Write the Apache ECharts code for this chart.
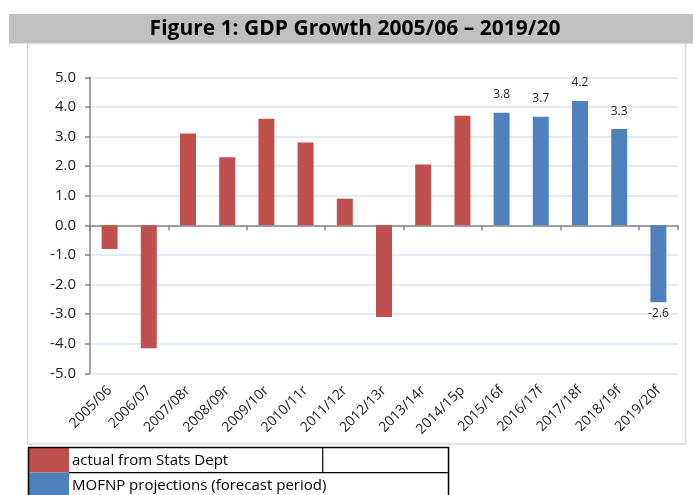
<!DOCTYPE html>
<html>
<head>
<meta charset="utf-8">
<script src="https://cdn.jsdelivr.net/npm/echarts@6/dist/echarts.min.js"></script>
<style>
html,body{margin:0;padding:0;background:#fff;}
#c{width:693px;height:495px;}
</style>
</head>
<body>
<div id="c"></div>
<script>
var titleText = 'Figure 1: GDP Growth 2005/06 \u2013 2019/20';
var categories = ['2005/06','2006/07','2007/08r','2008/09r','2009/10r','2010/11r','2011/12r','2012/13r','2013/14r','2014/15p','2015/16f','2016/17f','2017/18f','2018/19f','2019/20f'];
var actualValues = [-0.8, -4.15, 3.1, 2.3, 3.6, 2.8, 0.9, -3.1, 2.05, 3.7, null, null, null, null, null];
var projectionValues = [null, null, null, null, null, null, null, null, null, null, 3.8, 3.67, 4.2, 3.25, -2.6];
var seriesNames = ['actual from Stats Dept', 'MOFNP projections (forecast period)'];
var yTicks = [-5, -4, -3, -2, -1, 0, 1, 2, 3, 4, 5];

var RED = '#c0504d', BLUE = '#4f81bd';
var FONT = 'Open Sans';

function toData(arr, withLabel) {
  return arr.map(function (v) {
    if (v === null) return '-';
    if (!withLabel) return v;
    return {
      value: v,
      label: v >= 0 ? { show: true, position: 'top', distance: 12 } : { show: true, position: 'bottom', distance: 5 }
    };
  });
}

var chart = echarts.init(document.getElementById('c'), null, { renderer: 'canvas' });
chart.setOption({
  animation: false,
  backgroundColor: '#ffffff',
  textStyle: { fontFamily: FONT },
  grid: { left: 90, right: 15, top: 77.3, bottom: 121.7, containLabel: false },
  xAxis: [{
    type: 'category',
    data: categories,
    position: 'bottom',
    axisLine: { onZero: true, lineStyle: { color: '#868686', width: 1.5 } },
    axisTick: { show: true, length: 5, inside: false, lineStyle: { color: '#868686', width: 1.5 } },
    axisLabel: { show: false },
    splitLine: { show: false }
  }, {
    type: 'category',
    data: categories,
    position: 'bottom',
    axisLine: { show: false, onZero: false },
    axisTick: { show: false },
    axisLabel: { show: true, rotate: 45, margin: 15, fontSize: 14, color: '#222', fontFamily: FONT, interval: 0 },
    splitLine: { show: false }
  }],
  yAxis: {
    type: 'value',
    min: yTicks[0],
    max: yTicks[yTicks.length - 1],
    interval: 1,
    axisLine: { show: true, lineStyle: { color: '#868686', width: 1.5 } },
    axisTick: { show: true, length: 5, lineStyle: { color: '#868686', width: 1.5 } },
    axisLabel: { margin: 14, fontSize: 15, color: '#222', fontFamily: FONT, formatter: function (v) { return v.toFixed(1); } },
    splitLine: { show: true, lineStyle: { color: '#dce6f2', width: 1.5 } }
  },
  series: [{
    name: seriesNames[0],
    type: 'bar',
    xAxisIndex: 0,
    barWidth: 16,
    barGap: '-100%',
    itemStyle: { color: RED },
    data: toData(actualValues, false)
  }, {
    name: seriesNames[1],
    type: 'bar',
    xAxisIndex: 0,
    barWidth: 16,
    barGap: '-100%',
    itemStyle: { color: BLUE },
    label: { fontSize: 12, color: '#222', fontFamily: FONT, formatter: function (p) { return Number(p.value).toFixed(1); } },
    data: toData(projectionValues, true)
  }],
  graphic: [
    { type: 'rect', z: -10, shape: { x: 9, y: 14, width: 684, height: 29.5 }, style: { fill: '#c0c0c0' } },
    { type: 'text', z: 10, x: 355, y: 29, style: { text: titleText, font: 'bold 21px "Open Sans"', fill: '#000', textAlign: 'center', textVerticalAlign: 'middle' } },
    { type: 'rect', z: -10, shape: { x: 27.5, y: 43.5, width: 658, height: 400.5 }, style: { fill: 'transparent', stroke: '#d9d9d9', lineWidth: 1.5 } },
    { type: 'rect', z: 5, shape: { x: 29, y: 448, width: 40, height: 24.5 }, style: { fill: RED } },
    { type: 'rect', z: 5, shape: { x: 29, y: 472.5, width: 40, height: 25 }, style: { fill: BLUE } },
    { type: 'rect', z: 6, shape: { x: 28.5, y: 447.5, width: 420, height: 60 }, style: { fill: 'transparent', stroke: '#000', lineWidth: 1.5 } },
    { type: 'line', z: 6, shape: { x1: 69, y1: 472.7, x2: 448.5, y2: 472.7 }, style: { stroke: '#000', lineWidth: 1.2 } },
    { type: 'line', z: 6, shape: { x1: 322.7, y1: 447.5, x2: 322.7, y2: 472.7 }, style: { stroke: '#000', lineWidth: 1.2 } },
    { type: 'text', z: 6, x: 72, y: 460.5, style: { text: seriesNames[0], font: '15px "Open Sans"', fill: '#000', textVerticalAlign: 'middle' } },
    { type: 'text', z: 6, x: 72, y: 486, style: { text: seriesNames[1], font: '15px "Open Sans"', fill: '#000', textVerticalAlign: 'middle' } }
  ]
});
</script>
</body>
</html>
